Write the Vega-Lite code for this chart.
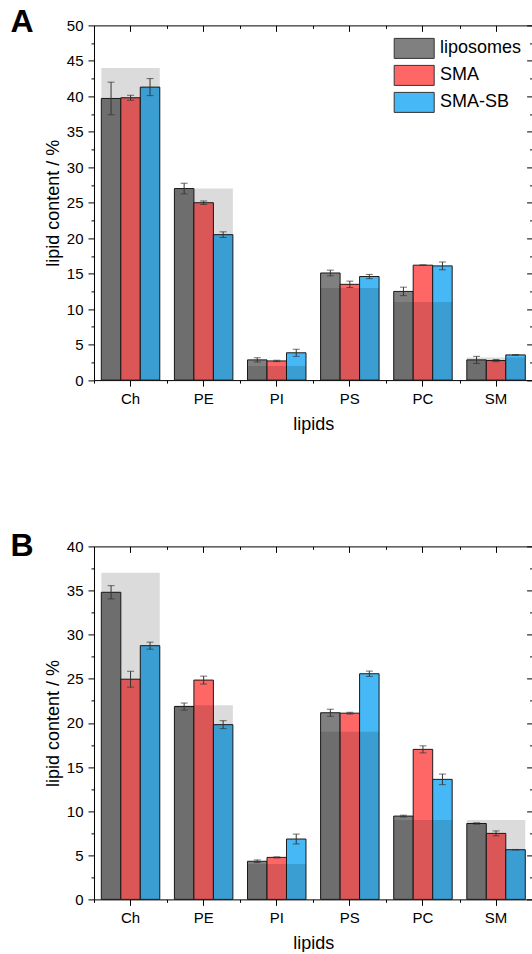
{
  "$schema": "https://vega.github.io/schema/vega-lite/v6.json",
  "padding": {"left": 10, "top": 5.4, "right": 0, "bottom": 0},
  "spacing": 96,
  "datasets": {
    "barsA": [
      {"lipid": "Ch", "sample": "liposomes", "value": 39.7, "lo": 37.4, "hi": 42.0},
      {"lipid": "Ch", "sample": "SMA", "value": 39.8, "lo": 39.45, "hi": 40.15},
      {"lipid": "Ch", "sample": "SMA-SB", "value": 41.3, "lo": 40.1, "hi": 42.5},
      {"lipid": "PE", "sample": "liposomes", "value": 27.0, "lo": 26.25, "hi": 27.75},
      {"lipid": "PE", "sample": "SMA", "value": 25.0, "lo": 24.75, "hi": 25.25},
      {"lipid": "PE", "sample": "SMA-SB", "value": 20.5, "lo": 20.1, "hi": 20.9},
      {"lipid": "PI", "sample": "liposomes", "value": 2.85, "lo": 2.55, "hi": 3.15},
      {"lipid": "PI", "sample": "SMA", "value": 2.7, "lo": 2.6, "hi": 2.8},
      {"lipid": "PI", "sample": "SMA-SB", "value": 3.85, "lo": 3.35, "hi": 4.35},
      {"lipid": "PS", "sample": "liposomes", "value": 15.1, "lo": 14.7, "hi": 15.5},
      {"lipid": "PS", "sample": "SMA", "value": 13.5, "lo": 13.05, "hi": 13.95},
      {"lipid": "PS", "sample": "SMA-SB", "value": 14.6, "lo": 14.3, "hi": 14.9},
      {"lipid": "PC", "sample": "liposomes", "value": 12.5, "lo": 11.9, "hi": 13.1},
      {"lipid": "PC", "sample": "SMA", "value": 16.2, "lo": 16.15, "hi": 16.25},
      {"lipid": "PC", "sample": "SMA-SB", "value": 16.1, "lo": 15.55, "hi": 16.65},
      {"lipid": "SM", "sample": "liposomes", "value": 2.85, "lo": 2.35, "hi": 3.35},
      {"lipid": "SM", "sample": "SMA", "value": 2.75, "lo": 2.6, "hi": 2.9},
      {"lipid": "SM", "sample": "SMA-SB", "value": 3.55, "lo": 3.5, "hi": 3.6}
    ],
    "refA": [
      {"lipid": "Ch", "ref": 44},
      {"lipid": "PE", "ref": 27},
      {"lipid": "PI", "ref": 2},
      {"lipid": "PS", "ref": 13},
      {"lipid": "PC", "ref": 11},
      {"lipid": "SM", "ref": 3.2}
    ],
    "barsB": [
      {"lipid": "Ch", "sample": "liposomes", "value": 34.8, "lo": 34.05, "hi": 35.55},
      {"lipid": "Ch", "sample": "SMA", "value": 24.95, "lo": 24.05, "hi": 25.85},
      {"lipid": "Ch", "sample": "SMA-SB", "value": 28.75, "lo": 28.35, "hi": 29.15},
      {"lipid": "PE", "sample": "liposomes", "value": 21.85, "lo": 21.45, "hi": 22.25},
      {"lipid": "PE", "sample": "SMA", "value": 24.85, "lo": 24.4, "hi": 25.3},
      {"lipid": "PE", "sample": "SMA-SB", "value": 19.8, "lo": 19.35, "hi": 20.25},
      {"lipid": "PI", "sample": "liposomes", "value": 4.32, "lo": 4.17, "hi": 4.47},
      {"lipid": "PI", "sample": "SMA", "value": 4.76, "lo": 4.7, "hi": 4.82},
      {"lipid": "PI", "sample": "SMA-SB", "value": 6.84, "lo": 6.28, "hi": 7.4},
      {"lipid": "PS", "sample": "liposomes", "value": 21.15, "lo": 20.75, "hi": 21.55},
      {"lipid": "PS", "sample": "SMA", "value": 21.1, "lo": 21.0, "hi": 21.2},
      {"lipid": "PS", "sample": "SMA-SB", "value": 25.57, "lo": 25.27, "hi": 25.87},
      {"lipid": "PC", "sample": "liposomes", "value": 9.44, "lo": 9.34, "hi": 9.54},
      {"lipid": "PC", "sample": "SMA", "value": 17.0, "lo": 16.6, "hi": 17.4},
      {"lipid": "PC", "sample": "SMA-SB", "value": 13.6, "lo": 13.0, "hi": 14.2},
      {"lipid": "SM", "sample": "liposomes", "value": 8.6, "lo": 8.52, "hi": 8.68},
      {"lipid": "SM", "sample": "SMA", "value": 7.48, "lo": 7.2, "hi": 7.76},
      {"lipid": "SM", "sample": "SMA-SB", "value": 5.63, "lo": 5.6, "hi": 5.66}
    ],
    "refB": [
      {"lipid": "Ch", "ref": 37},
      {"lipid": "PE", "ref": 22},
      {"lipid": "PI", "ref": 4},
      {"lipid": "PS", "ref": 19},
      {"lipid": "PC", "ref": 9},
      {"lipid": "SM", "ref": 9}
    ]
  },
  "vconcat": [
    {
      "width": 438.6,
      "height": 354.7,
      "title": {"text": "A", "anchor": "start", "frame": "group", "fontSize": 32, "fontWeight": "bold", "dx": -83.4, "dy": 20.4, "offset": 0, "color": "#000"},
      "resolve": {"axis": {"x": "independent", "y": "independent"}},
      "layer": [
        {
          "data": {"name": "barsA"},
          "mark": {"type": "bar", "stroke": "#1a1a1a", "strokeWidth": 1},
          "encoding": {
            "x": {"field": "lipid", "type": "nominal", "scale": {"domain": ["Ch", "PE", "PI", "PS", "PC", "SM"], "paddingInner": 0, "paddingOuter": 0},
                  "axis": {"orient": "bottom", "title": "lipids", "labelAngle": 0, "tickSize": 6, "labelPadding": 5, "titlePadding": 9}},
            "xOffset": {"field": "sample", "type": "nominal", "scale": {"domain": ["liposomes", "SMA", "SMA-SB"], "paddingInner": 0, "paddingOuter": 0.375}},
            "y": {"field": "value", "type": "quantitative", "scale": {"domain": [0, 50], "nice": false},
                  "axis": {"orient": "left", "title": "lipid content / %", "values": [0, 5, 10, 15, 20, 25, 30, 35, 40, 45, 50], "tickSize": 6, "labelPadding": 5, "titlePadding": 4}},
            "color": {"field": "sample", "type": "nominal",
                      "scale": {"domain": ["liposomes", "SMA", "SMA-SB"], "range": ["#808080", "#ff6666", "#45b8f5"]},
                      "legend": {"orient": "none", "legendX": 309.7, "legendY": 12.5, "title": null, "symbolType": "M-2,-1H2V1H-2Z", "symbolSize": 400, "symbolStrokeColor": "#333", "symbolStrokeWidth": 1, "labelFontSize": 18, "labelOffset": 15.3, "rowPadding": 2, "padding": 0, "labelColor": "#000"}}
          }
        },
        {
          "data": {"name": "refA"},
          "mark": {"type": "bar", "width": {"band": 0.8}, "fill": "#000", "fillOpacity": 0.14},
          "encoding": {
            "x": {"field": "lipid", "type": "nominal", "axis": {"orient": "bottom", "tickBand": "extent", "tickSize": 3, "labels": false, "domain": false, "title": null}},
            "y": {"field": "ref", "type": "quantitative", "axis": {"orient": "left", "values": [2.5, 7.5, 12.5, 17.5, 22.5, 27.5, 32.5, 37.5, 42.5, 47.5], "tickSize": 3, "labels": false, "domain": false, "title": null}}
          }
        },
        {
          "data": {"name": "barsA"},
          "mark": {"type": "rule", "color": "#333", "strokeWidth": 1},
          "encoding": {
            "x": {"field": "lipid", "type": "nominal", "axis": {"orient": "top", "tickSize": -6, "labels": false, "domain": true, "title": null}},
            "xOffset": {"field": "sample", "type": "nominal"},
            "y": {"field": "lo", "type": "quantitative", "axis": {"orient": "right", "values": [0, 5, 10, 15, 20, 25, 30, 35, 40, 45, 50], "tickSize": -6, "labels": false, "domain": false, "title": null}},
            "y2": {"field": "hi"}
          }
        },
        {
          "data": {"name": "barsA"},
          "mark": {"type": "tick", "color": "#333", "size": 7, "thickness": 1},
          "encoding": {
            "x": {"field": "lipid", "type": "nominal", "axis": {"orient": "top", "tickBand": "extent", "tickSize": -3, "labels": false, "domain": false, "title": null}},
            "xOffset": {"field": "sample", "type": "nominal"},
            "y": {"field": "lo", "type": "quantitative", "axis": {"orient": "right", "values": [2.5, 7.5, 12.5, 17.5, 22.5, 27.5, 32.5, 37.5, 42.5, 47.5], "tickSize": -3, "labels": false, "domain": false, "title": null}}
          }
        },
        {
          "data": {"name": "barsA"},
          "mark": {"type": "tick", "color": "#333", "size": 7, "thickness": 1},
          "encoding": {
            "x": {"field": "lipid", "type": "nominal", "axis": null},
            "xOffset": {"field": "sample", "type": "nominal"},
            "y": {"field": "hi", "type": "quantitative", "axis": null}
          }
        }
      ]
    },
    {
      "width": 438.6,
      "height": 353,
      "title": {"text": "B", "anchor": "start", "frame": "group", "fontSize": 32, "fontWeight": "bold", "dx": -83.4, "dy": 23.9, "offset": 0, "color": "#000"},
      "resolve": {"axis": {"x": "independent", "y": "independent"}},
      "layer": [
        {
          "data": {"name": "barsB"},
          "mark": {"type": "bar", "stroke": "#1a1a1a", "strokeWidth": 1},
          "encoding": {
            "x": {"field": "lipid", "type": "nominal", "scale": {"domain": ["Ch", "PE", "PI", "PS", "PC", "SM"], "paddingInner": 0, "paddingOuter": 0},
                  "axis": {"orient": "bottom", "title": "lipids", "labelAngle": 0, "tickSize": 6, "labelPadding": 5, "titlePadding": 9}},
            "xOffset": {"field": "sample", "type": "nominal", "scale": {"domain": ["liposomes", "SMA", "SMA-SB"], "paddingInner": 0, "paddingOuter": 0.375}},
            "y": {"field": "value", "type": "quantitative", "scale": {"domain": [0, 40], "nice": false},
                  "axis": {"orient": "left", "title": "lipid content / %", "values": [0, 5, 10, 15, 20, 25, 30, 35, 40], "tickSize": 6, "labelPadding": 5, "titlePadding": 4}},
            "color": {"field": "sample", "type": "nominal",
                      "scale": {"domain": ["liposomes", "SMA", "SMA-SB"], "range": ["#808080", "#ff6666", "#45b8f5"]},
                      "legend": {"orient": "none", "legendX": 299.4, "legendY": 12.5, "title": null, "symbolType": "M-2,-1H2V1H-2Z", "symbolSize": 400, "symbolStrokeColor": "#333", "symbolStrokeWidth": 1, "labelFontSize": 18, "labelOffset": 15.5, "rowPadding": 2, "padding": 0, "labelColor": "#000"}}
          }
        },
        {
          "data": {"name": "refB"},
          "mark": {"type": "bar", "width": {"band": 0.8}, "fill": "#000", "fillOpacity": 0.14},
          "encoding": {
            "x": {"field": "lipid", "type": "nominal", "axis": {"orient": "bottom", "tickBand": "extent", "tickSize": 3, "labels": false, "domain": false, "title": null}},
            "y": {"field": "ref", "type": "quantitative", "axis": {"orient": "left", "values": [2.5, 7.5, 12.5, 17.5, 22.5, 27.5, 32.5, 37.5], "tickSize": 3, "labels": false, "domain": false, "title": null}}
          }
        },
        {
          "data": {"name": "barsB"},
          "mark": {"type": "rule", "color": "#333", "strokeWidth": 1},
          "encoding": {
            "x": {"field": "lipid", "type": "nominal", "axis": {"orient": "top", "tickSize": -6, "labels": false, "domain": true, "title": null}},
            "xOffset": {"field": "sample", "type": "nominal"},
            "y": {"field": "lo", "type": "quantitative", "axis": {"orient": "right", "values": [0, 5, 10, 15, 20, 25, 30, 35, 40], "tickSize": -6, "labels": false, "domain": false, "title": null}},
            "y2": {"field": "hi"}
          }
        },
        {
          "data": {"name": "barsB"},
          "mark": {"type": "tick", "color": "#333", "size": 7, "thickness": 1},
          "encoding": {
            "x": {"field": "lipid", "type": "nominal", "axis": {"orient": "top", "tickBand": "extent", "tickSize": -3, "labels": false, "domain": false, "title": null}},
            "xOffset": {"field": "sample", "type": "nominal"},
            "y": {"field": "lo", "type": "quantitative", "axis": {"orient": "right", "values": [2.5, 7.5, 12.5, 17.5, 22.5, 27.5, 32.5, 37.5], "tickSize": -3, "labels": false, "domain": false, "title": null}}
          }
        },
        {
          "data": {"name": "barsB"},
          "mark": {"type": "tick", "color": "#333", "size": 7, "thickness": 1},
          "encoding": {
            "x": {"field": "lipid", "type": "nominal", "axis": null},
            "xOffset": {"field": "sample", "type": "nominal"},
            "y": {"field": "hi", "type": "quantitative", "axis": null}
          }
        }
      ]
    }
  ],
  "config": {
    "font": "Liberation Sans",
    "view": {"stroke": null},
    "axis": {"grid": false, "domainColor": "#000", "tickColor": "#000", "labelColor": "#000", "titleColor": "#000", "labelFont": "Liberation Sans", "titleFont": "Liberation Sans", "labelFontSize": 15, "titleFontSize": 18, "titleFontWeight": "normal", "domainWidth": 1, "tickWidth": 1},
    "legend": {"labelFont": "Liberation Sans"},
    "title": {"font": "Liberation Sans"}
  }
}
